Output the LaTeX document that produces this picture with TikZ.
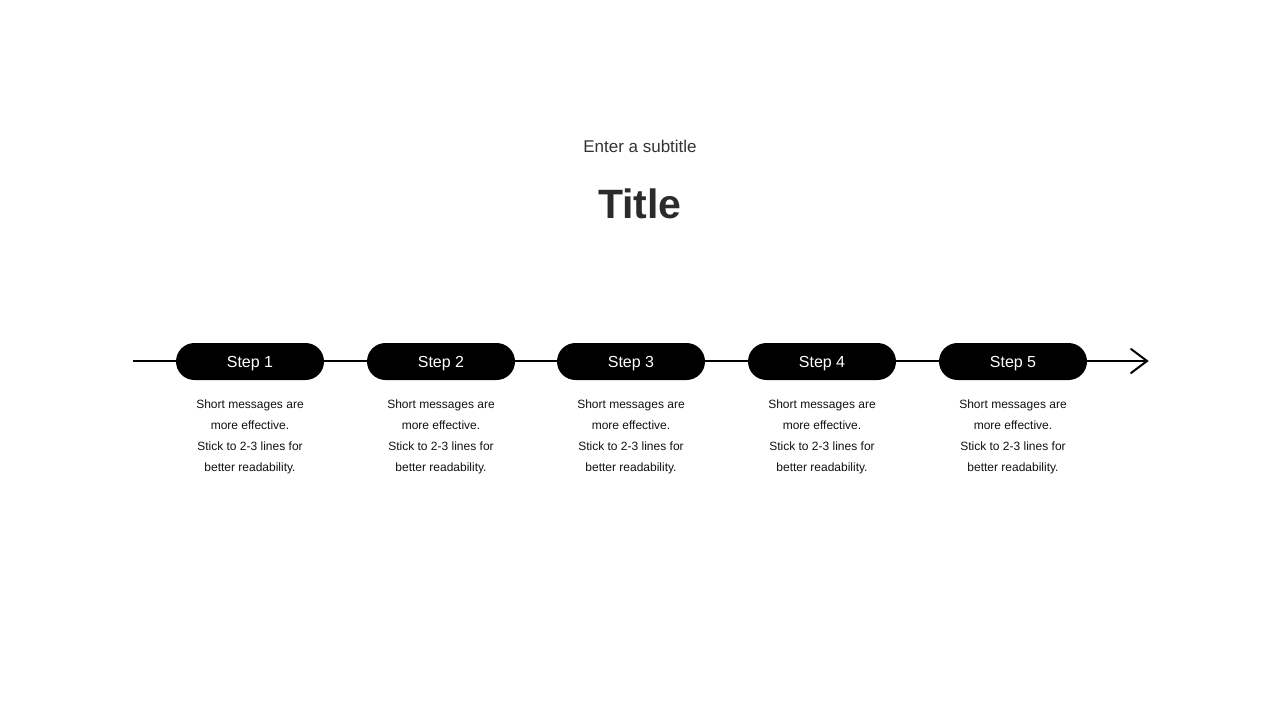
\documentclass[tikz,border=0pt]{standalone}
\usepackage{fontspec}
\setmainfont{Liberation Sans}
\usetikzlibrary{arrows.meta}
\definecolor{titlegray}{HTML}{2B2B2B}
\definecolor{subgray}{HTML}{333333}
\definecolor{bodyblack}{HTML}{111111}
\begin{document}
\begin{tikzpicture}[x=1pt,y=-1pt,
  pill/.style={fill=black, rounded corners=18.5pt, minimum width=148pt, minimum height=37pt, inner sep=0pt, text height=11.5pt, text depth=0pt, text=white, font=\fontsize{16}{19}\selectfont},
  body/.style={align=center, text=bodyblack, font=\fontsize{12}{21}\selectfont, anchor=north, inner sep=0pt},
  axis/.style={line width=2pt, black}
]
\useasboundingbox (0,0) rectangle (1280,720);
\node[text=subgray, font=\fontsize{17}{20}\selectfont] (sub) at (640,146) {Enter a subtitle};
\node[text=titlegray, font=\fontsize{41}{48}\selectfont\bfseries] (title) at (640,204) {Title};

\coordinate (start) at (133,361);
\coordinate (end) at (1147,361);
\draw[axis] (start) -- (end);
\draw[axis, line cap=round, line join=miter] (1131,349) -- (1147,361) -- (1131,373);

\foreach \i/\x in {1/250,2/441,3/631,4/822,5/1013}{
  \node[pill] (s\i) at (\x,361.5) {Step \i};
  \node[body] (t\i) at (\x,400) {Short messages are\\more effective.\\Stick to 2-3 lines for\\better readability.};
}
\end{tikzpicture}
\end{document}
